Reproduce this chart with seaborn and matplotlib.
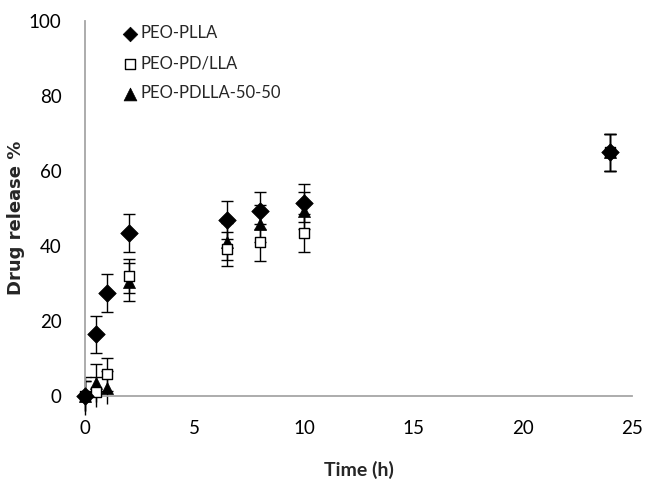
import numpy as np
import pandas as pd
import matplotlib
matplotlib.use("Agg")
import matplotlib.pyplot as plt
import seaborn as sns

# time points (h)
time_h = [0, 0.5, 1, 2, 6.5, 8, 10, 24]

# drug release % per polymer
plla = [0.0, 16.5, 27.5, 43.5, 47.0, 49.5, 51.5, 65.0]
pdlla_mix = [0.0, 1.0, 5.8, 32.0, 39.3, 41.0, 43.5, 65.0]
pdlla_5050 = [0.0, 3.5, 2.3, 30.5, 41.2, 46.0, 49.5, 65.0]

# error bars (+/-)
plla_err = [5, 5, 5, 5, 5, 5, 5, 5]
pdlla_mix_err = [4, 4, 4.5, 4.5, 4.5, 5, 5, 5]
pdlla_5050_err = [4, 5, 4.5, 5, 5, 5, 5, 5]

labels = ["PEO-PLLA", "PEO-PD/LLA", "PEO-PDLLA-50-50"]

df = pd.concat([
    pd.DataFrame({"time": time_h, "release": plla, "err": plla_err, "polymer": labels[0]}),
    pd.DataFrame({"time": time_h, "release": pdlla_mix, "err": pdlla_mix_err, "polymer": labels[1]}),
    pd.DataFrame({"time": time_h, "release": pdlla_5050, "err": pdlla_5050_err, "polymer": labels[2]}),
])

sns.set_style("white")
plt.rcParams['font.family'] = ['Lato', 'DejaVu Sans']

fig = plt.figure(figsize=(6.46, 4.82), dpi=100)
ax = fig.add_axes([0.132, 0.178, 0.846, 0.778])

# error bars drawn first so markers sit on top
for name in labels[::-1]:
    sub = df[df['polymer'] == name]
    ax.errorbar(sub['time'], sub['release'], yerr=sub['err'], fmt='none',
                ecolor='black', elinewidth=1.0, capsize=4, capthick=1.0, zorder=2)

markers = {labels[0]: 'D', labels[1]: 's', labels[2]: '^'}
sizes = {labels[0]: 80, labels[1]: 50, labels[2]: 75}
legend_sizes = {labels[0]: 55, labels[1]: 45, labels[2]: 85}

for name in labels[::-1]:
    sub = df[df['polymer'] == name]
    if name == labels[1]:
        sns.scatterplot(data=sub, x='time', y='release', marker='s', s=sizes[name],
                        facecolor='white', edgecolor='black', linewidth=1.0,
                        ax=ax, zorder=3, label=name)
    else:
        sns.scatterplot(data=sub, x='time', y='release', marker=markers[name], s=sizes[name],
                        color='black', edgecolor='black', linewidth=0.5,
                        ax=ax, zorder=3, label=name)

handles, lbls = ax.get_legend_handles_labels()
order = [lbls.index(l) for l in labels]
leg = ax.legend([handles[i] for i in order], [lbls[i] for i in order],
                loc='upper left', bbox_to_anchor=(0.0686, 0.99), frameon=False,
                fontsize=12, handletextpad=0.15, handlelength=0.9, labelspacing=0.85,
                borderpad=0, borderaxespad=0)
for h, name in zip(leg.legend_handles, labels):
    h.set_sizes([legend_sizes[name]])

ax.set_xlim(0, 25)
ax.set_ylim(0, 100)
ax.set_xticks([0, 5, 10, 15, 20, 25])
ax.set_yticks([0, 20, 40, 60, 80, 100])

for side in ['top', 'right']:
    ax.spines[side].set_visible(False)
for side in ['left', 'bottom']:
    ax.spines[side].set_color('#A6A6A6')
    ax.spines[side].set_linewidth(1.3)
ax.tick_params(axis='x', direction='out', length=6, width=1.2, color='#A6A6A6',
               labelsize=13.5, labelcolor='black', pad=11)
ax.tick_params(axis='y', direction='out', length=4, width=1.2, color='#A6A6A6',
               labelsize=13.5, labelcolor='black', pad=13)

ax.set_xlabel('Time (h)', fontsize=14, fontweight='bold', labelpad=17)
ax.set_ylabel('Drug release %', labelpad=3)
ylab = ax.yaxis.label
ylab.set_fontfamily(['DejaVu Sans'])
ylab.set_fontweight('bold')
ylab.set_fontsize(13)
ylab.set_y(0.475)

# markers at the axes edge must not be clipped
for coll in ax.collections:
    coll.set_clip_on(False)

fig.savefig("out.png", dpi=100)
